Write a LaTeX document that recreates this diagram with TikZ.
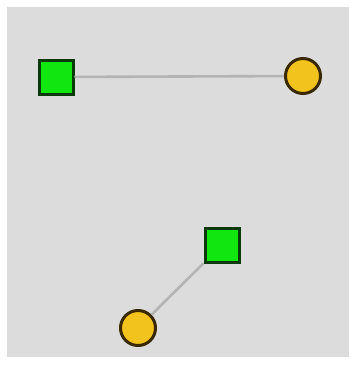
\documentclass[tikz,border=0pt]{standalone}
\definecolor{bg}{HTML}{DCDCDC}
\definecolor{sqfill}{HTML}{11E611}
\definecolor{sqline}{HTML}{0A3A0A}
\definecolor{cfill}{HTML}{F2C31C}
\definecolor{cline}{HTML}{3A2800}
\definecolor{edge}{HTML}{B4B4B4}
\begin{document}
\begin{tikzpicture}[x=1pt,y=-1pt,
  sq/.style={draw=sqline,fill=sqfill,line width=3pt,minimum size=34pt,inner sep=0pt},
  ball/.style={circle,draw=cline,fill=cfill,line width=3pt,minimum size=35pt,inner sep=0pt},
  conn/.style={draw=edge,line width=2.6pt}]
\useasboundingbox (0,0) rectangle (349,365);
\fill[white] (0,0) rectangle (349,365);
\fill[bg] (7,7) rectangle (349,357);
\node[sq] (s1) at (56,77) {};
\node[ball] (c1) at (303,76) {};
\node[sq] (s2) at (222,245) {};
\node[ball] (c2) at (138,328) {};
\draw[conn] (s1) -- (c1);
\draw[conn] (s2) -- (c2);
\end{tikzpicture}
\end{document}
